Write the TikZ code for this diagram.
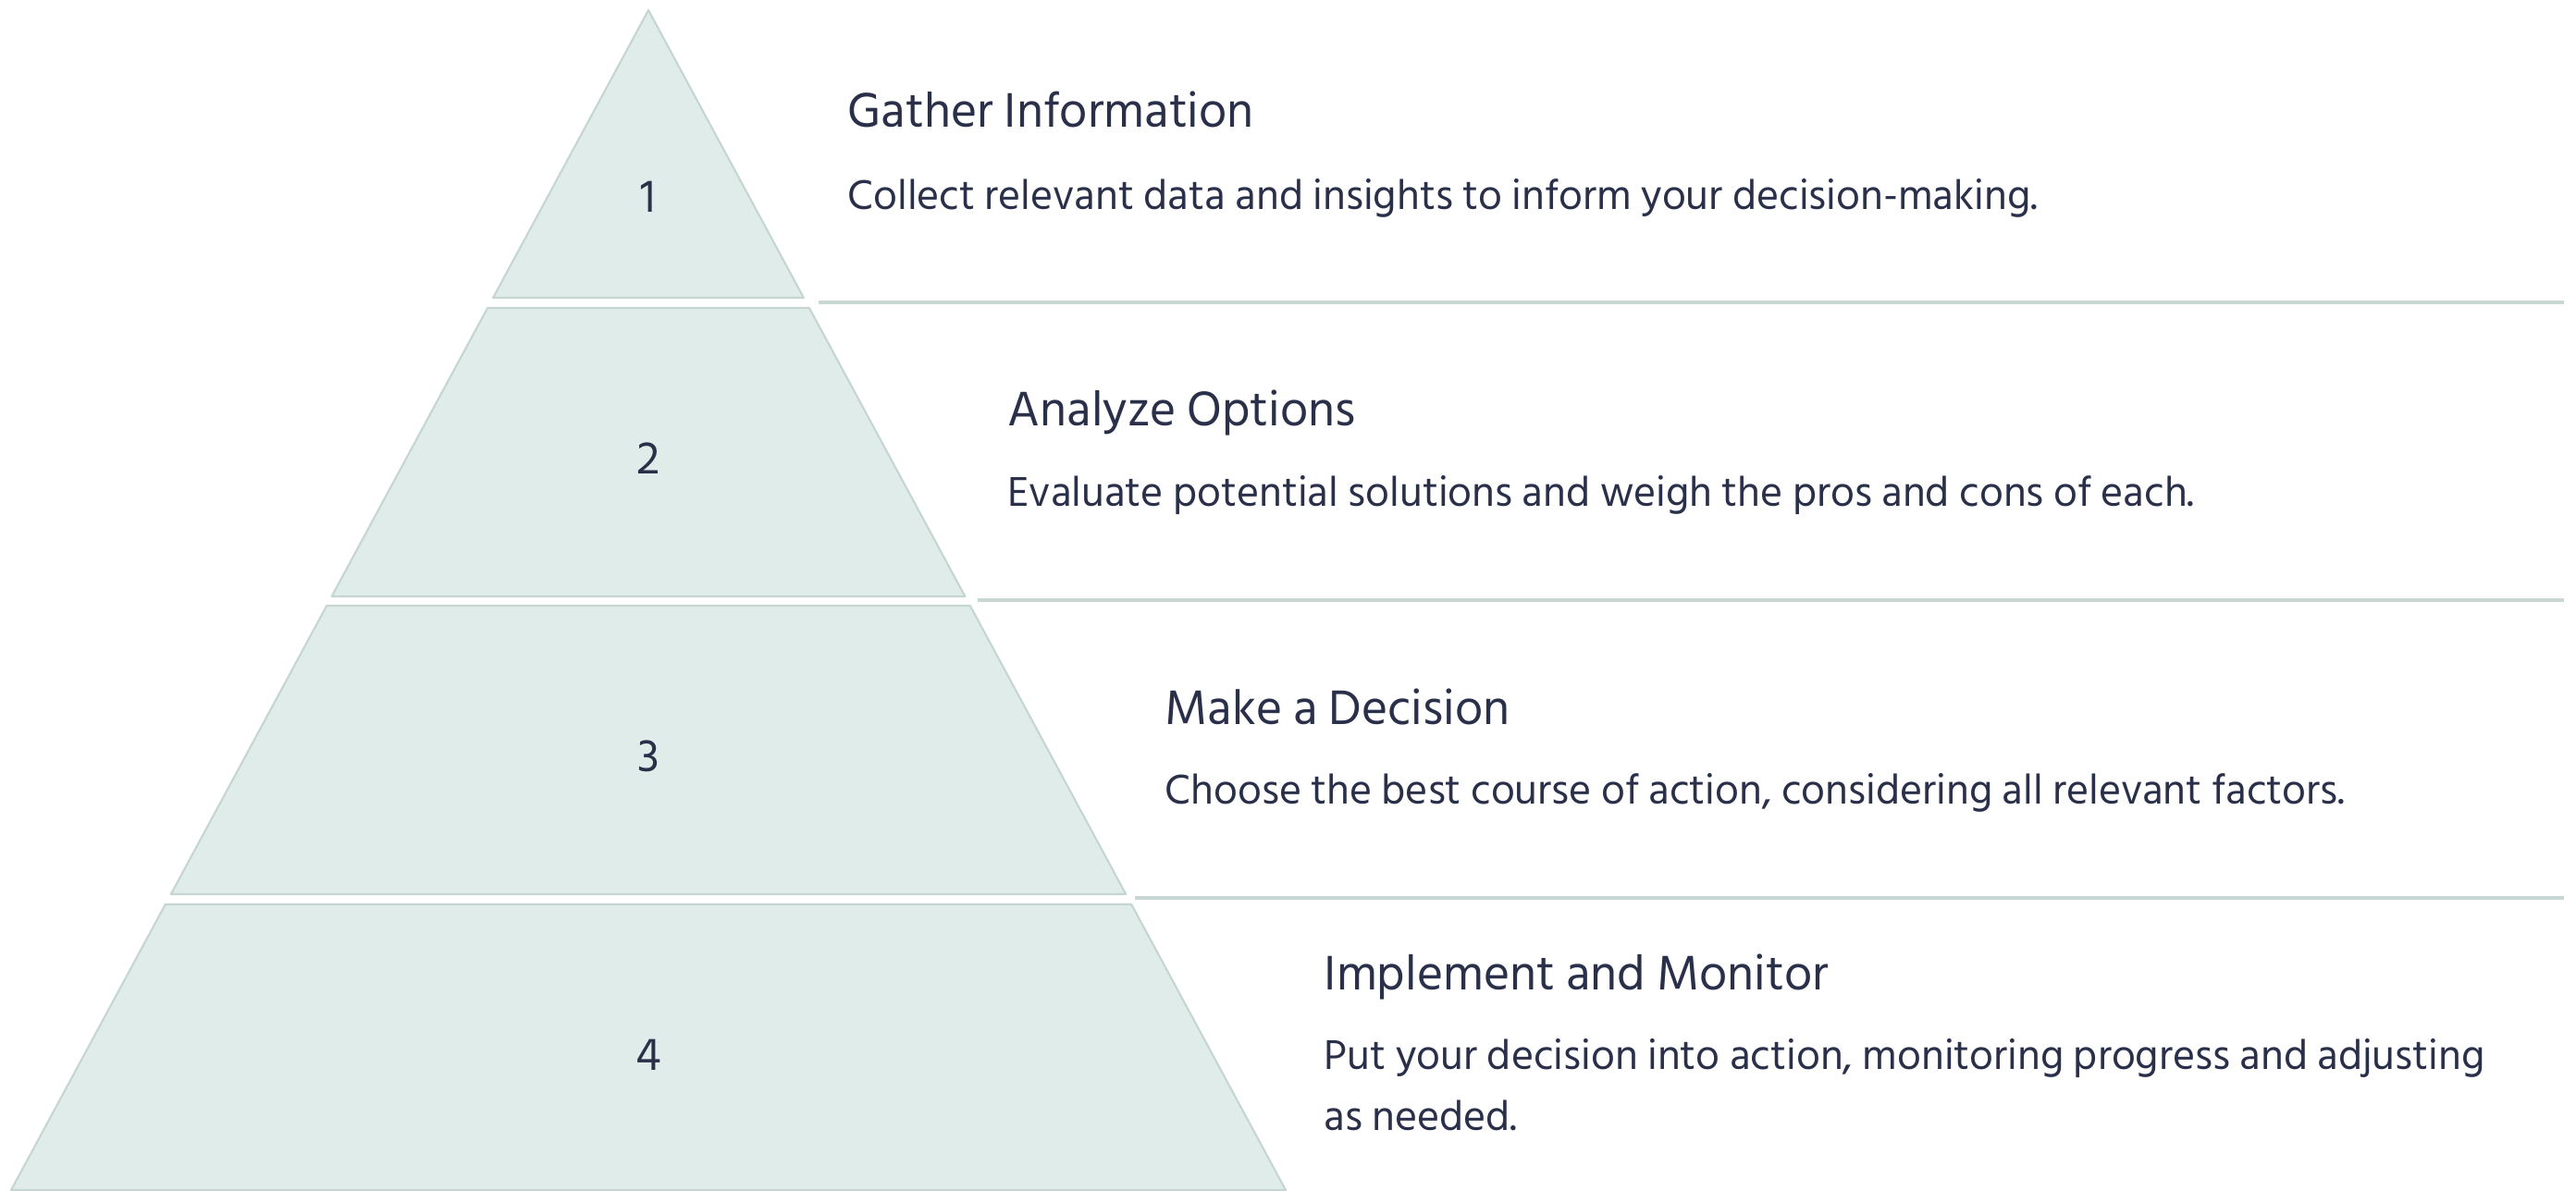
\documentclass[tikz,border=0pt]{standalone}
\usepackage{fontspec}
\setmainfont{Hind Siliguri}
\usepackage{xcolor}
\usepackage{tikz}
\usetikzlibrary{calc}
\definecolor{layerfill}{HTML}{E0ECE9}
\definecolor{layeredge}{HTML}{C5D6D2}
\definecolor{ruleline}{HTML}{C9D7D4}
\definecolor{inkdark}{HTML}{2A3049}

\begin{document}
\begin{tikzpicture}[
  layer/.style={fill=layerfill, draw=layeredge, line width=0.6pt, line join=round},
  sep/.style={draw=ruleline, line width=0.9pt},
  num/.style={text=inkdark, font=\fontsize{14.5}{17}\selectfont, anchor=base, inner sep=0pt},
  head/.style={text=inkdark, font=\fontsize{15.3}{18}\selectfont, anchor=base west, inner sep=0pt},
  body/.style={text=inkdark, font=\fontsize{13.1}{18.5}\selectfont, anchor=base west, inner sep=0pt}]
  \useasboundingbox (0,0) rectangle (27.85,-12.87);
  % pyramid layers
  \draw[layer] (7.01,-0.11) -- (8.689,-3.22) -- (5.331,-3.22) -- cycle;
  \draw[layer] (5.271,-3.33) -- (8.749,-3.33) -- (10.434,-6.45) -- (3.586,-6.45) -- cycle;
  \draw[layer] (3.532,-6.55) -- (10.488,-6.55) -- (12.172,-9.67) -- (1.848,-9.67) -- cycle;
  \draw[layer] (1.788,-9.78) -- (12.232,-9.78) -- (13.90,-12.87) -- (0.12,-12.87) -- cycle;
  \node[num] (n1) at (7.01,-2.29) {1};
  \node[num] (n2) at (7.01,-5.12) {2};
  \node[num] (n3) at (7.01,-8.34) {3};
  \node[num] (n4) at (7.01,-11.57) {4};
  % rules between rows
  \draw[sep] (8.85,-3.27) -- (27.72,-3.27);
  \draw[sep] (10.57,-6.49) -- (27.72,-6.49);
  \draw[sep] (12.27,-9.71) -- (27.72,-9.71);
  % texts
  \node[head] (h1) at (9.16,-1.37) {Gather Information};
  \node[body] (b1) at (9.16,-2.26) {Collect relevant data and insights to inform your decision-making.};
  \node[head] (h2) at (10.89,-4.60) {Analyze Options};
  \node[body] (b2) at (10.89,-5.47) {Evaluate potential solutions and weigh the pros and cons of each.};
  \node[head] (h3) at (12.59,-7.83) {Make a Decision};
  \node[body] (b3) at (12.59,-8.69) {Choose the best course of action, considering all relevant factors.};
  \node[head] (h4) at (14.31,-10.70) {Implement and Monitor};
  % base of a two-line node sits on its last line
  \node[body, align=left] (b4) at (14.31,-12.22) {Put your decision into action, monitoring progress and adjusting\\as needed.};
\end{tikzpicture}
\end{document}
